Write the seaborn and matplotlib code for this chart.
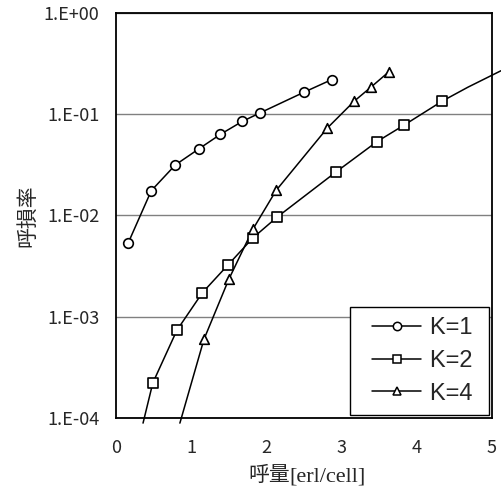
import numpy as np
import pandas as pd
import matplotlib
matplotlib.use("Agg")
import matplotlib.pyplot as plt
from matplotlib.lines import Line2D
from matplotlib.legend_handler import HandlerLine2D
import seaborn as sns

# ── data ──
k1_x = [0.16, 0.47, 0.79, 1.10, 1.39, 1.68, 1.92, 2.50, 2.87]
k1_y = [0.0053, 0.0176, 0.0316, 0.0454, 0.0634, 0.085, 0.1035, 0.165, 0.22]

k2_x = [0.49, 0.81, 1.15, 1.49, 1.82, 2.14, 2.92, 3.47, 3.83, 4.34]
k2_y = [0.000222, 0.000735, 0.00173, 0.00325, 0.006, 0.0096, 0.0267, 0.0536, 0.078, 0.135]

k4_x = [1.17, 1.50, 1.82, 2.13, 2.81, 3.17, 3.39, 3.63]
k4_y = [0.000598, 0.00234, 0.0073, 0.0177, 0.073, 0.135, 0.185, 0.263]

# curve continues past the marked points
k2_head_x, k2_head_y = [0.36], [8.9e-5]
k2_tail_x, k2_tail_y = [4.68, 5.12], [0.185, 0.269]
k4_head_x, k4_head_y = [0.85], [8.9e-5]

labels = ["K=1", "K=2", "K=4"]
markers = ["o", "s", "^"]
x_ticks = [0, 1, 2, 3, 4, 5]
y_ticks = [1e-4, 1e-3, 1e-2, 1e-1, 1e0]
y_ticklabels = ["1.E-04", "1.E-03", "1.E-02", "1.E-01", "1.E+00"]

sns.set_style("white")
plt.rcParams["font.family"] = ["Noto Sans CJK JP", "DejaVu Sans"]


class PaddedLine(HandlerLine2D):
    # legend line starts a little in from the frame, like the Excel original
    def get_xdata(self, legend, xdescent, ydescent, width, height, fontsize):
        x0 = -xdescent + 0.45 * fontsize
        x1 = -xdescent + width
        return [x0, x1], [0.5 * (x0 + x1)]


pts = pd.concat([
    pd.DataFrame({"x": k1_x, "y": k1_y, "K": "K=1"}),
    pd.DataFrame({"x": k2_x, "y": k2_y, "K": "K=2"}),
    pd.DataFrame({"x": k4_x, "y": k4_y, "K": "K=4"}),
], ignore_index=True)

curves = {
    "K=1": (k1_x, k1_y),
    "K=2": (k2_head_x + k2_x + k2_tail_x, k2_head_y + k2_y + k2_tail_y),
    "K=4": (k4_head_x + k4_x, k4_head_y + k4_y),
}

fig = plt.figure(figsize=(5.02, 4.91), dpi=100)
ax = fig.add_axes([0.231, 0.1487, 0.749, 0.8248])

for lab in labels:
    cx, cy = curves[lab]
    sns.lineplot(x=cx, y=cy, color="black", lw=1.1, sort=False,
                 estimator=None, ax=ax, legend=False, clip_on=False, zorder=3)

for lab, m in zip(labels, markers):
    sub = pts[pts["K"] == lab]
    sns.scatterplot(data=sub, x="x", y="y", marker=m, s=48,
                    facecolor="white", edgecolor="black", linewidth=1.2,
                    ax=ax, legend=False, zorder=4)

ax.set_yscale("log")
ax.set_xlim(0, 5)
ax.set_ylim(1e-4, 1)
ax.set_xticks(x_ticks)
ax.set_yticks(y_ticks)
ax.set_yticklabels(y_ticklabels)
ax.minorticks_off()
ax.grid(axis="y", color="#808080", lw=1)
ax.grid(axis="x", visible=False)
ax.tick_params(axis="x", direction="in", length=4, width=0.6, color="#808080",
               labelsize=13, pad=15)
ax.tick_params(axis="y", length=0, labelsize=13, pad=12)
for s in ax.spines.values():
    s.set_color("black")
    s.set_linewidth(1.3)

ax.set_xlabel("")
ax.set_ylabel("呼損率", fontsize=15, labelpad=4)

t1 = fig.text(0.494, 0.02, "呼量", fontsize=15, ha="left", va="baseline",
              family=["Noto Sans CJK JP"])
ax.annotate("[erl/cell]", xy=(1, 0), xycoords=t1, xytext=(0, 0),
            textcoords="offset points", fontsize=16, ha="left", va="bottom",
            family=["Liberation Serif"])

handles = [Line2D([], [], color="black", lw=1.1, marker=m, markersize=6,
                  markeredgewidth=1.1,
                  markerfacecolor="white", markeredgecolor="black")
           for m in markers]
leg = ax.legend(handles, [l + " " for l in labels], loc="lower right",
                bbox_to_anchor=(0.993, 0.007),
                handler_map={Line2D: PaddedLine()},
                borderaxespad=0, fancybox=False, edgecolor="black", framealpha=1,
                handlelength=2.55, handletextpad=0.35, labelspacing=0.45,
                borderpad=0.45,
                prop={"family": "Liberation Sans", "size": 17})
leg.get_frame().set_linewidth(1.0)

fig.savefig("out.png", dpi=100)
